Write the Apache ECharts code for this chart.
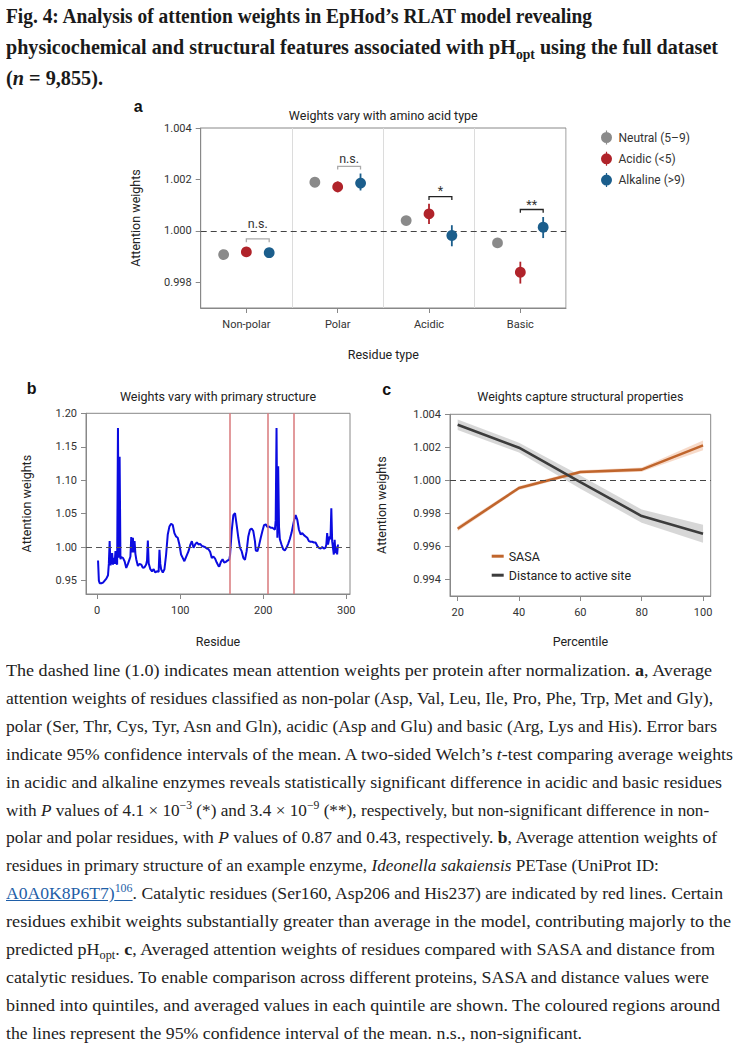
<!DOCTYPE html>
<html><head><meta charset="utf-8">
<script src="https://cdn.jsdelivr.net/npm/echarts@6/dist/echarts.min.js"></script>
<style>
html,body{margin:0;padding:0;background:#fff;}
body{width:740px;height:1054px;overflow:hidden;position:relative;}
#chart{position:absolute;left:0;top:0;width:740px;height:650px;}
.ln{position:absolute;left:6px;white-space:nowrap;transform-origin:0 50%;}
.t{font-family:"Liberation Serif",serif;font-weight:bold;font-size:20px;line-height:24px;color:#1a1a1a;}
.c{font-family:"Liberation Serif",serif;font-size:17px;line-height:22px;color:#222;}
sup,sub{font-size:68%;line-height:0;}
a{color:#1f5fa8;text-decoration:underline;}
</style></head><body>
<div id="chart"></div>
<div id="title"></div>
<div id="caption"></div>
<script>
// ---------- Panel a data ----------
const categories = ['Non-polar', 'Polar', 'Acidic', 'Basic'];
const groupNames = ['Neutral (5–9)', 'Acidic (<5)', 'Alkaline (>9)'];
const neutralMean = [0.99912, 1.00189, 1.00040, 0.99953];
const neutralLow  = [0.99907, 1.00183, 1.00034, 0.99946];
const neutralHigh = [0.99917, 1.00195, 1.00046, 0.99960];
const acidicMean  = [0.99918, 1.00171, 1.00066, 0.99839];
const acidicLow   = [0.99912, 1.00150, 1.00027, 0.99795];
const acidicHigh  = [0.99924, 1.00192, 1.00105, 0.99880];
const alkalineMean = [0.99915, 1.00189, 0.99982, 1.00014];
const alkalineLow  = [0.99909, 1.00157, 0.99940, 0.99972];
const alkalineHigh = [0.99921, 1.00223, 1.00022, 1.00054];
const sigLabels = ['n.s.', 'n.s.', '*', '**'];
const bracketLevel = [0.99969, 1.00251, 1.00133, 1.00083];
const sigLabelLevel = [1.00027, 1.00280, 1.00157, 1.00102];
const aTicksY = [0.998, 1.000, 1.002, 1.004];

// ---------- Panel b data ----------
const residues = [1,2,3,5,7,9,11,13,14,15,16,17,18,19,20,21,22,23,24,25,26,27,28,29,31,33,35,37,39,40,41,42,43,44,45,46,47,49,51,53,55,57,59,60,61,62,64,66,68,70,72,74,75,76,77,79,81,83,85,87,89,91,93,95,97,99,101,103,105,107,110,112,114,116,118,120,122,124,126,128,130,132,134,136,138,140,142,144,146,147,149,151,153,155,157,159,160,162,164,166,168,170,172,174,176,178,180,182,184,186,188,190,191,193,195,197,199,201,203,205,207,209,211,213,214,215,216,217,218,219,220,222,224,226,228,230,232,234,236,237,239,241,243,245,247,249,251,253,255,257,259,261,263,265,267,269,271,273,275,276,277,278,280,281,282,283,285,286,287,288,289,290];
const residueWeights = [0.980,0.950,0.946,0.946,0.947,0.950,0.953,0.958,0.975,1.009,0.973,0.978,0.991,0.974,0.984,0.975,0.994,0.976,0.974,1.178,0.984,1.135,0.982,0.985,0.984,0.979,0.969,0.975,0.982,0.986,1.015,0.992,1.014,0.992,1.009,0.990,0.982,0.972,0.975,0.974,0.969,0.970,0.974,0.980,1.010,0.976,0.967,0.964,0.967,0.962,0.964,0.963,0.996,0.975,0.967,0.962,0.967,0.989,1.019,1.031,1.035,1.033,1.021,1.016,1.014,1.004,0.989,0.984,0.979,0.985,0.994,1.003,1.009,0.999,1.004,1.007,1.004,1.005,1.002,1.001,1.000,0.998,0.997,0.993,0.984,0.986,0.983,0.977,0.972,0.971,0.978,0.982,0.977,0.978,0.980,0.981,0.988,1.024,1.048,1.051,1.033,1.014,0.999,0.994,0.984,0.981,0.994,1.016,1.026,1.028,1.024,1.009,0.995,0.994,1.003,1.014,1.024,1.033,1.034,1.030,1.031,1.029,1.029,1.027,1.026,1.040,1.178,1.014,1.121,1.030,1.012,1.004,0.997,0.995,0.999,1.005,1.012,1.021,1.033,1.039,1.048,1.041,1.026,1.019,1.021,1.018,1.016,1.014,1.009,1.008,1.008,1.007,1.007,1.002,0.999,0.998,1.000,0.998,0.999,1.004,1.021,1.004,1.016,1.012,1.058,1.009,0.989,1.011,0.991,1.001,0.989,1.004];
const catalyticResidues = [160, 206, 237];
const bTicksX = [0, 100, 200, 300];
const bTicksY = [0.95, 1.00, 1.05, 1.10, 1.15, 1.20];

// ---------- Panel c data ----------
const percentiles = [20, 40, 60, 80, 100];
const sasaMean = [0.99707, 0.99954, 1.00051, 1.00065, 1.00212];
const sasaLow  = [0.99692, 0.99942, 1.00040, 1.00052, 1.00182];
const sasaHigh = [0.99722, 0.99966, 1.00062, 1.00078, 1.00242];
const distMean = [1.00337, 1.00198, 0.99990, 0.99784, 0.99677];
const distLow  = [1.00305, 1.00168, 0.99950, 0.99744, 0.99622];
const distHigh = [1.00369, 1.00228, 1.00030, 0.99824, 0.99732];
const cTicksX = [20, 40, 60, 80, 100];
const cTicksY = [0.994, 0.996, 0.998, 1.000, 1.002, 1.004];
const refLevel = 1.0;

// ---------- Styles ----------
const FONT = 'Roboto';
const GREY = '#8a8a8a', RED = '#b0232a', BLUE = '#1b5e8c';
const SASA_C = '#c0652c', DIST_C = '#3c3c3c';

function axisBase(extra) {
  return Object.assign({
    axisLine: { show: true, onZero: false, lineStyle: { color: '#888', width: 1 } },
    axisTick: { show: true, length: 5, lineStyle: { color: '#888' } },
    axisLabel: { color: '#333', fontSize: 11, fontFamily: FONT },
    nameLocation: 'middle',
    nameTextStyle: { color: '#222', fontSize: 12.5, fontFamily: FONT },
    splitLine: { show: false }
  }, extra);
}
function fixed(d) { return v => v.toFixed(d); }

function groupSeries(name, color, mean, low, high, offset) {
  return {
    type: 'custom', name, xAxisIndex: 0, yAxisIndex: 0, z: 5,
    itemStyle: { color },
    data: mean.map((m, i) => [i, m, low[i], high[i]]),
    encode: { x: 0, y: [1, 2, 3] },
    renderItem(params, api) {
      const cat = api.value(0);
      const c = api.coord([cat, api.value(1)]);
      const bw = api.size([1, 0])[0];
      const x = c[0] + offset * bw;
      const lo = api.coord([cat, api.value(2)])[1];
      const hi = api.coord([cat, api.value(3)])[1];
      return { type: 'group', children: [
        { type: 'line', shape: { x1: x, y1: lo, x2: x, y2: hi }, style: { stroke: color, lineWidth: 1.8 } },
        { type: 'circle', shape: { cx: x, cy: c[1], r: 5.4 }, style: { fill: color } }
      ] };
    }
  };
}

function bandSeries(name, color, low, high, gi) {
  return {
    type: 'custom', name, xAxisIndex: gi, yAxisIndex: gi, z: 2, silent: true,
    data: percentiles.map((p, i) => [p, low[i], high[i]]),
    encode: { x: 0, y: [1, 2] },
    renderItem(params, api) {
      if (params.dataIndex !== 0) return;
      const top = percentiles.map((p, i) => api.coord([p, high[i]]));
      const bot = percentiles.map((p, i) => api.coord([p, low[i]])).reverse();
      return { type: 'polygon', shape: { points: top.concat(bot) }, style: { fill: color } };
    }
  };
}

const dashRef = { silent: true, symbol: 'none', label: { show: false },
  lineStyle: { color: '#444', type: [6, 4], width: 1.2 }, data: [{ yAxis: refLevel }] };

const option = {
  animation: false,
  grid: [
    { left: 200.7, top: 128, width: 365.3, height: 180, show: true, borderColor: '#888', borderWidth: 1 },
    { left: 86, top: 413.3, width: 264, height: 180.7, show: true, borderColor: '#888', borderWidth: 1 },
    { left: 450, top: 414.3, width: 260.7, height: 181.7, show: true, borderColor: '#888', borderWidth: 1 }
  ],
  xAxis: [
    axisBase({ type: 'category', gridIndex: 0, data: categories, name: 'Residue type', nameGap: 40,
      axisTick: { show: true, alignWithLabel: true, length: 5, lineStyle: { color: '#888' } },
      axisLabel: { color: '#333', fontSize: 11, fontFamily: FONT, margin: 11 },
      splitLine: { show: true, lineStyle: { color: '#dcdcdc', width: 1 } } }),
    axisBase({ type: 'value', gridIndex: 1, min: -13.5, max: 304.5, name: 'Residue', nameGap: 41,
      axisTick: { show: true, length: 5, lineStyle: { color: '#888' }, customValues: bTicksX },
      axisLabel: { color: '#333', fontSize: 11, fontFamily: FONT, margin: 11, customValues: bTicksX } }),
    axisBase({ type: 'value', gridIndex: 2, min: 17.5, max: 102.5, name: 'Percentile', nameGap: 39,
      axisTick: { show: true, length: 5, lineStyle: { color: '#888' }, customValues: cTicksX },
      axisLabel: { color: '#333', fontSize: 11, fontFamily: FONT, margin: 11, customValues: cTicksX } })
  ],
  yAxis: [
    axisBase({ type: 'value', gridIndex: 0, min: 0.997, max: 1.004, name: 'Attention weights', nameGap: 59,
      axisTick: { show: true, length: 5, lineStyle: { color: '#888' }, customValues: aTicksY },
      axisLabel: { color: '#333', fontSize: 11, fontFamily: FONT, margin: 9, customValues: aTicksY, formatter: fixed(3) } }),
    axisBase({ type: 'value', gridIndex: 1, min: 0.93, max: 1.20, name: 'Attention weights', nameGap: 52.7,
      axisTick: { show: true, length: 5, lineStyle: { color: '#888' }, customValues: bTicksY },
      axisLabel: { color: '#333', fontSize: 11, fontFamily: FONT, margin: 9, customValues: bTicksY, formatter: fixed(2) } }),
    axisBase({ type: 'value', gridIndex: 2, min: 0.993, max: 1.004, name: 'Attention weights', nameGap: 61.7,
      axisTick: { show: true, length: 5, lineStyle: { color: '#888' }, customValues: cTicksY },
      axisLabel: { color: '#333', fontSize: 11, fontFamily: FONT, margin: 9, customValues: cTicksY, formatter: fixed(3) } })
  ],
  legend: [
    { orient: 'vertical', left: 601, top: 130.5, padding: 0, itemGap: 7.3, itemWidth: 14, itemHeight: 14,
      selectedMode: false, data: groupNames,
      icon: 'path://M6.4,0h1.2v14h-1.2z M7,1.5a5.5,5.5 0 1,1 0,11a5.5,5.5 0 1,1 0,-11z',
      textStyle: { color: '#333', fontSize: 12, fontFamily: FONT } },
    { orient: 'vertical', left: 491.7, top: 549.7, padding: 0, itemGap: 6, itemWidth: 12, itemHeight: 3,
      selectedMode: false, data: ['SASA', 'Distance to active site'], icon: 'rect',
      textStyle: { color: '#222', fontSize: 12.5, fontFamily: FONT } }
  ],
  graphic: [
    { type: 'text', x: 383.3, y: 115, style: { text: 'Weights vary with amino acid type', align: 'center', verticalAlign: 'middle', fontSize: 12.5, fontFamily: FONT, fill: '#222' } },
    { type: 'text', x: 218, y: 396, style: { text: 'Weights vary with primary structure', align: 'center', verticalAlign: 'middle', fontSize: 12.5, fontFamily: FONT, fill: '#222' } },
    { type: 'text', x: 580.3, y: 396, style: { text: 'Weights capture structural properties', align: 'center', verticalAlign: 'middle', fontSize: 12.5, fontFamily: FONT, fill: '#222' } },
    { type: 'text', x: 138.3, y: 106.7, style: { text: 'a', align: 'center', verticalAlign: 'middle', fontSize: 16, fontWeight: 'bold', fontFamily: 'Liberation Sans', fill: '#111' } },
    { type: 'text', x: 31.7, y: 388, style: { text: 'b', align: 'center', verticalAlign: 'middle', fontSize: 16, fontWeight: 'bold', fontFamily: 'Liberation Sans', fill: '#111' } },
    { type: 'text', x: 386.7, y: 389.3, style: { text: 'c', align: 'center', verticalAlign: 'middle', fontSize: 16, fontWeight: 'bold', fontFamily: 'Liberation Sans', fill: '#111' } }
  ],
  series: [
    // panel a
    { type: 'line', name: 'refA', xAxisIndex: 0, yAxisIndex: 0, data: [], z: 1, markLine: dashRef },
    groupSeries(groupNames[0], GREY, neutralMean, neutralLow, neutralHigh, -0.25),
    groupSeries(groupNames[1], RED, acidicMean, acidicLow, acidicHigh, 0),
    groupSeries(groupNames[2], BLUE, alkalineMean, alkalineLow, alkalineHigh, 0.25),
    {
      type: 'custom', name: 'significance', xAxisIndex: 0, yAxisIndex: 0, z: 6, silent: true,
      data: categories.map((c, i) => [i, bracketLevel[i], sigLabelLevel[i]]),
      encode: { x: 0, y: [1, 2] },
      renderItem(params, api) {
        const i = params.dataIndex, cat = api.value(0);
        const bw = api.size([1, 0])[0];
        const p = api.coord([cat, api.value(1)]);
        const x1 = p[0], x2 = p[0] + 0.25 * bw, y = p[1];
        const ly = api.coord([cat, api.value(2)])[1];
        const ns = sigLabels[i] === 'n.s.';
        const col = ns ? '#aaaaaa' : '#222';
        return { type: 'group', children: [
          { type: 'polyline', shape: { points: [[x1, y + 3.3], [x1, y], [x2, y], [x2, y + 3.3]] }, style: { stroke: col, lineWidth: 1.3, fill: 'none' } },
          { type: 'text', x: (x1 + x2) / 2, y: ly, style: { text: sigLabels[i], align: 'center', verticalAlign: 'middle', fontSize: 12.5, fontFamily: FONT, fill: '#333' } }
        ] };
      }
    },
    // panel b
    { type: 'line', name: 'refB', xAxisIndex: 1, yAxisIndex: 1, data: [], z: 1,
      markLine: { silent: true, symbol: 'none', label: { show: false },
        data: [{ yAxis: refLevel, lineStyle: { color: '#555', type: [6, 4], width: 1.2 } }]
          .concat(catalyticResidues.map(r => ({ xAxis: r, lineStyle: { color: '#d9787b', type: 'solid', width: 1.5 } }))) } },
    { type: 'line', name: 'weights', xAxisIndex: 1, yAxisIndex: 1, z: 3, symbol: 'none',
      lineStyle: { color: '#0b0be0', width: 2 }, itemStyle: { color: '#0b0be0' },
      data: residues.map((r, i) => [r, residueWeights[i]]) },
    // panel c
    { type: 'line', name: 'refC', xAxisIndex: 2, yAxisIndex: 2, data: [], z: 1, markLine: dashRef },
    bandSeries('SASA CI', 'rgba(232,150,100,0.35)', sasaLow, sasaHigh, 2),
    bandSeries('Distance CI', 'rgba(140,140,140,0.35)', distLow, distHigh, 2),
    { type: 'line', name: 'SASA', xAxisIndex: 2, yAxisIndex: 2, z: 4, symbol: 'none',
      lineStyle: { color: SASA_C, width: 2.6 }, itemStyle: { color: SASA_C },
      data: percentiles.map((p, i) => [p, sasaMean[i]]) },
    { type: 'line', name: 'Distance to active site', xAxisIndex: 2, yAxisIndex: 2, z: 4, symbol: 'none',
      lineStyle: { color: DIST_C, width: 2.6 }, itemStyle: { color: DIST_C },
      data: percentiles.map((p, i) => [p, distMean[i]]) }
  ]
};

const chart = echarts.init(document.getElementById('chart'), null, { renderer: 'svg' });
chart.setOption(option);

// ---------- Title and caption text ----------
const titleLines = [
  'Fig. 4: Analysis of attention weights in EpHod’s RLAT model revealing',
  'physicochemical and structural features associated with pH<sub>opt</sub> using the full dataset',
  '(<i>n</i> = 9,855).'
];
const titleEnds = [588, 718, 103];
const titleCenters = [16, 47, 78];
const captionLines = [
  'The dashed line (1.0) indicates mean attention weights per protein after normalization. <b>a</b>, Average',
  'attention weights of residues classified as non-polar (Asp, Val, Leu, Ile, Pro, Phe, Trp, Met and Gly),',
  'polar (Ser, Thr, Cys, Tyr, Asn and Gln), acidic (Asp and Glu) and basic (Arg, Lys and His). Error bars',
  'indicate 95% confidence intervals of the mean. A two-sided Welch’s <i>t</i>-test comparing average weights',
  'in acidic and alkaline enzymes reveals statistically significant difference in acidic and basic residues',
  'with <i>P</i> values of 4.1 × 10<sup>−3</sup> (*) and 3.4 × 10<sup>−9</sup> (**), respectively, but non-significant difference in non-',
  'polar and polar residues, with <i>P</i> values of 0.87 and 0.43, respectively. <b>b</b>, Average attention weights of',
  'residues in primary structure of an example enzyme, <i>Ideonella sakaiensis</i> PETase (UniProt ID:',
  '<a>A0A0K8P6T7)<sup>106</sup></a>. Catalytic residues (Ser160, Asp206 and His237) are indicated by red lines. Certain',
  'residues exhibit weights substantially greater than average in the model, contributing majorly to the',
  'predicted pH<sub>opt</sub>. <b>c</b>, Averaged attention weights of residues compared with SASA and distance from',
  'catalytic residues. To enable comparison across different proteins, SASA and distance values were',
  'binned into quintiles, and averaged values in each quintile are shown. The coloured regions around',
  'the lines represent the 95% confidence interval of the mean. n.s., non-significant.'
];
const captionEnds = [712, 713, 717, 733, 722, 709, 717, 622, 723, 731, 715, 709, 720, 582];

function placeLines(container, lines, ends, centers, cls, lh) {
  const els = lines.map((html, i) => {
    const d = document.createElement('div');
    d.className = 'ln ' + cls;
    d.innerHTML = html;
    d.style.top = (centers[i] - lh / 2) + 'px';
    container.appendChild(d);
    return d;
  });
  const scales = els.map((d, i) => (ends[i] - 6) / d.getBoundingClientRect().width);
  const sorted = scales.slice().sort((a, b) => a - b);
  const med = sorted[Math.floor(sorted.length / 2)];
  els.forEach((d, i) => {
    const s = Math.min(med * 1.035, Math.max(med * 0.965, scales[i]));
    d.style.transform = 'scaleX(' + s.toFixed(4) + ')';
  });
}
placeLines(document.getElementById('title'), titleLines, titleEnds, titleCenters, 't', 24);
const capCenters = captionLines.map((_, i) => 671 + 27.9 * i);
placeLines(document.getElementById('caption'), captionLines, captionEnds, capCenters, 'c', 22);
</script>
</body></html>
